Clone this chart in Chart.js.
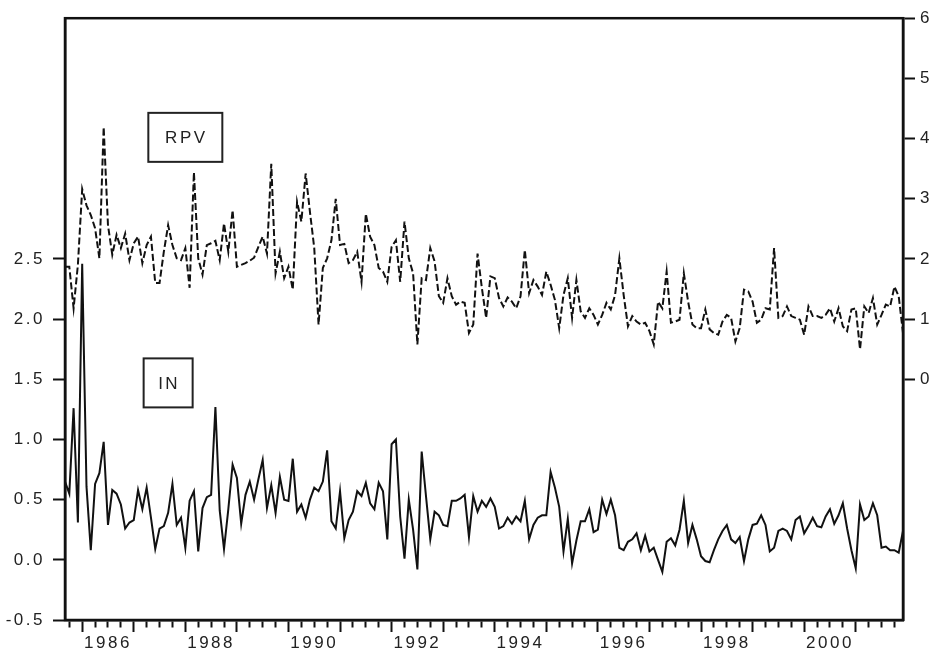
<!DOCTYPE html>
<html lang="en">
<head>
  <meta charset="UTF-8">
  <title>RPV and IN</title>
  <style>
    html, body { margin: 0; padding: 0; background: #fff; }
    #grafico { display: block; }
  </style>
</head>
<body>
  <canvas id="grafico" width="938" height="659"></canvas>

  <script src="https://cdn.jsdelivr.net/npm/chart.js"></script>
  <script>
    // monthly observations, the first one is 1985M09, the last 2001M12
    const startYear = 1985;
    const startMonth = 9;

    // IN, left axis
    const inValues = [
      0.65, 0.55, 1.26, 0.31, 2.46, 0.61, 0.08, 0.63, 0.72, 0.98, 0.29, 0.58, 0.55, 0.46, 0.26, 0.31,
      0.33, 0.58, 0.42, 0.60, 0.35, 0.09, 0.26, 0.28, 0.39, 0.63, 0.29, 0.35, 0.10, 0.49, 0.57, 0.07,
      0.43, 0.52, 0.54, 1.27, 0.41, 0.09, 0.42, 0.79, 0.68, 0.30, 0.54, 0.65, 0.50, 0.67, 0.83, 0.43,
      0.62, 0.39, 0.69, 0.50, 0.49, 0.84, 0.40, 0.46, 0.35, 0.50, 0.60, 0.57, 0.65, 0.91, 0.32, 0.26,
      0.57, 0.18, 0.33, 0.40, 0.57, 0.53, 0.64, 0.47, 0.42, 0.64, 0.57, 0.17, 0.96, 1.00, 0.36, 0.01,
      0.50, 0.25, -0.08, 0.90, 0.53, 0.17, 0.40, 0.37, 0.29, 0.28, 0.49, 0.49, 0.51, 0.54, 0.19, 0.53,
      0.40, 0.49, 0.44, 0.51, 0.44, 0.26, 0.28, 0.35, 0.30, 0.36, 0.32, 0.49, 0.17, 0.29, 0.35, 0.37,
      0.37, 0.73, 0.60, 0.44, 0.07, 0.34, -0.03, 0.16, 0.32, 0.32, 0.42, 0.23, 0.25, 0.50, 0.38, 0.50,
      0.37, 0.10, 0.08, 0.15, 0.17, 0.22, 0.08, 0.20, 0.07, 0.10, 0.00, -0.10, 0.15, 0.18, 0.12, 0.25,
      0.49, 0.14, 0.29, 0.17, 0.03, -0.01, -0.02, 0.08, 0.17, 0.24, 0.29, 0.17, 0.14, 0.19, -0.01, 0.17,
      0.29, 0.30, 0.37, 0.29, 0.07, 0.10, 0.24, 0.26, 0.24, 0.17, 0.33, 0.36, 0.22, 0.28, 0.35, 0.28,
      0.27, 0.36, 0.42, 0.30, 0.37, 0.47, 0.26, 0.08, -0.07, 0.46, 0.33, 0.36, 0.47, 0.37, 0.10, 0.11,
      0.08, 0.08, 0.06, 0.24
    ];

    // RPV, right axis
    const rpvValues = [
      1.87, 1.87, 1.18, 1.90, 3.16, 2.89, 2.73, 2.51, 2.01, 4.19, 2.56, 2.07, 2.40, 2.18, 2.42, 1.98,
      2.26, 2.37, 1.93, 2.23, 2.37, 1.60, 1.60, 2.12, 2.56, 2.23, 2.01, 1.98, 2.18, 1.52, 3.44, 2.01,
      1.74, 2.23, 2.26, 2.30, 1.98, 2.59, 2.12, 2.81, 1.87, 1.90, 1.93, 1.97, 2.02, 2.20, 2.37, 2.09,
      3.58, 1.76, 2.12, 1.68, 1.87, 1.49, 2.95, 2.62, 3.42, 2.78, 2.18, 0.91, 1.85, 2.01, 2.31, 3.00,
      2.23, 2.25, 1.93, 1.98, 2.12, 1.62, 2.75, 2.37, 2.23, 1.85, 1.79, 1.62, 2.20, 2.31, 1.62, 2.62,
      2.01, 1.76, 0.58, 1.68, 1.65, 2.18, 1.96, 1.38, 1.27, 1.68, 1.38, 1.24, 1.29, 1.27, 0.77, 0.91,
      2.09, 1.52, 1.02, 1.71, 1.68, 1.35, 1.21, 1.36, 1.29, 1.18, 1.38, 2.15, 1.43, 1.65, 1.54, 1.40,
      1.79, 1.57, 1.32, 0.85, 1.40, 1.68, 1.02, 1.65, 1.13, 1.02, 1.18, 1.07, 0.91, 1.07, 1.27, 1.16,
      1.40, 2.01, 1.40, 0.88, 1.05, 0.96, 0.91, 0.94, 0.80, 0.58, 1.29, 1.18, 1.79, 0.94, 0.96, 0.99,
      1.76, 1.29, 0.91, 0.85, 0.85, 1.16, 0.83, 0.77, 0.74, 0.96, 1.07, 1.02, 0.63, 0.85, 1.49, 1.46,
      1.29, 0.94, 0.99, 1.18, 1.16, 2.18, 1.02, 1.05, 1.21, 1.05, 1.02, 0.99, 0.74, 1.21, 1.05, 1.05,
      1.02, 1.07, 1.18, 0.96, 1.18, 0.88, 0.80, 1.16, 1.18, 0.50, 1.21, 1.10, 1.35, 0.91, 1.07, 1.24,
      1.21, 1.54, 1.38, 0.77
    ];

    const leftTicks = [-0.5, 0.0, 0.5, 1.0, 1.5, 2.0, 2.5];
    const rightTicks = [0, 1, 2, 3, 4, 5, 6];
    const yearLabels = [1986, 1988, 1990, 1992, 1994, 1996, 1998, 2000];
    const seriesNames = ["RPV", "IN"];

    // year and month of every observation
    const months = inValues.map((v, i) => {
      const m = startMonth - 1 + i;
      return { year: startYear + Math.floor(m / 12), month: (m % 12) + 1 };
    });

    const ink = "#111";
    const letra = { family: "'Liberation Sans', Arial, sans-serif", size: 17 };

    // boxed names written inside the plot
    const notas = [
      { text: seriesNames[0], x: 28, y: 3.51, w: 74, h: 49 },
      { text: seriesNames[1], x: 24, y: 1.47, w: 49, h: 49 }
    ];

    const espaciado = {
      id: "espaciado",
      beforeDraw(chart) {
        chart.ctx.letterSpacing = "2.5px";
      }
    };

    const marco = {
      id: "marco",
      afterDatasetsDraw(chart) {
        const { ctx, chartArea: a, scales } = chart;
        ctx.save();
        ctx.strokeStyle = ink;
        ctx.lineWidth = 2.5;
        ctx.strokeRect(a.left, a.top, a.right - a.left, a.bottom - a.top);

        ctx.lineWidth = 2;
        ctx.strokeStyle = "#222";
        ctx.fillStyle = "#222";
        ctx.font = `${letra.size}px ${letra.family}`;
        ctx.textAlign = "center";
        ctx.textBaseline = "middle";
        notas.forEach(n => {
          const cx = scales.x.getPixelForValue(n.x);
          const cy = scales.y.getPixelForValue(n.y);
          ctx.strokeRect(cx - n.w / 2, cy - n.h / 2, n.w, n.h);
          ctx.fillText(n.text, cx + 1, cy + 1);
        });
        ctx.restore();
      }
    };

    const lienzo = document.getElementById("grafico");

    new Chart(lienzo, {
      type: "line",
      data: {
        datasets: [
          {
            label: seriesNames[1],
            data: inValues.map((v, i) => ({ x: i, y: v })),
            yAxisID: "y",
            borderColor: ink,
            borderWidth: 2,
            pointRadius: 0,
            tension: 0
          },
          {
            label: seriesNames[0],
            data: rpvValues.map((v, i) => ({ x: i, y: v })),
            yAxisID: "y2",
            borderColor: ink,
            borderWidth: 2,
            borderDash: [7, 3],
            pointRadius: 0,
            tension: 0
          }
        ]
      },
      options: {
        responsive: false,
        animation: false,
        devicePixelRatio: 1,
        layout: { padding: { top: 16, left: 0, right: 0, bottom: 0 } },
        plugins: {
          legend: { display: false },
          tooltip: { enabled: false }
        },
        scales: {
          x: {
            type: "linear",
            position: "bottom",
            min: 0,
            max: inValues.length - 1,
            afterBuildTicks: axis => {
              axis.ticks = months
                .map((m, i) => ({ value: i, month: m.month }))
                .filter(t => t.month % 3 === 1)
                .map(t => ({ value: t.value }));
            },
            afterFit: axis => { axis.height = 39; },
            grid: {
              drawOnChartArea: false,
              tickLength: 12,
              tickWidth: 2,
              tickColor: ink,
              tickBorderDash: c => (c.tick && months[c.tick.value].month !== 1) ? [6, 40] : []
            },
            border: { color: ink, width: 2.5 },
            ticks: {
              autoSkip: false,
              maxRotation: 0,
              padding: 1,
              color: "#222",
              font: letra,
              callback: v => {
                const m = months[v];
                return (m && m.month === 7 && yearLabels.includes(m.year)) ? String(m.year) : "";
              }
            }
          },
          y: {
            position: "left",
            min: -0.5,
            max: 4.5,
            afterBuildTicks: axis => { axis.ticks = leftTicks.map(v => ({ value: v })); },
            afterFit: axis => { axis.width = 65; },
            grid: { drawOnChartArea: false, tickLength: 12, tickWidth: 2, tickColor: ink },
            border: { color: ink, width: 2.5 },
            ticks: { padding: 8, color: "#222", font: letra, callback: v => v.toFixed(1) }
          },
          y2: {
            position: "right",
            min: -4,
            max: 6,
            afterBuildTicks: axis => { axis.ticks = rightTicks.map(v => ({ value: v })); },
            afterFit: axis => { axis.width = 35; },
            grid: { drawOnChartArea: false, tickLength: 12, tickWidth: 2, tickColor: ink },
            border: { color: ink, width: 2.5 },
            ticks: { padding: 5, color: "#222", font: letra, callback: v => String(v) }
          }
        }
      },
      plugins: [espaciado, marco]
    });
  </script>
</body>
</html>
